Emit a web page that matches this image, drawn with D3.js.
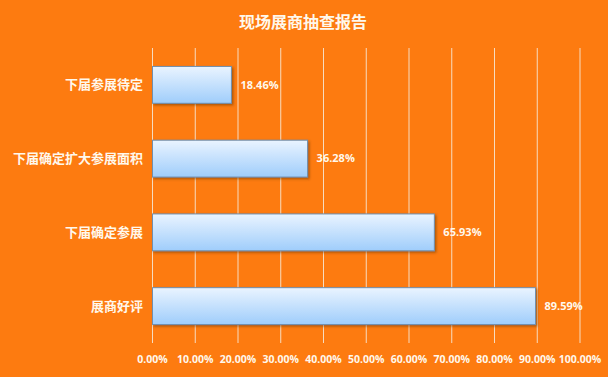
<!DOCTYPE html>
<html><head><meta charset="utf-8">
<script src="https://cdn.jsdelivr.net/npm/d3@7"></script>
<style>html,body{margin:0;padding:0;background:#fd7b10;}svg{display:block;}</style>
</head><body>
<script>
const title = "现场展商抽查报告";
const categories = ["下届参展待定","下届确定扩大参展面积","下届确定参展","展商好评"];
const values = [18.46, 36.28, 65.93, 89.59];
const ticks = [0,10,20,30,40,50,60,70,80,90,100];

const W = 608, H = 377;
const svg = d3.select("body").append("svg").attr("width", W).attr("height", H);
svg.append("rect").attr("width", W).attr("height", H).attr("fill", "#fd7b10");

const defs = svg.append("defs");
const g = defs.append("linearGradient").attr("id","bg").attr("x1",0).attr("y1",0).attr("x2",0).attr("y2",1);
g.append("stop").attr("offset","0%").attr("stop-color","#eaf4ff");
g.append("stop").attr("offset","100%").attr("stop-color","#9fcdfb");
const f = defs.append("filter").attr("id","sh").attr("x","-10%").attr("y","-20%").attr("width","130%").attr("height","160%");
f.append("feDropShadow").attr("dx",1.5).attr("dy",1.5).attr("stdDeviation",1).attr("flood-color","#5a3000").attr("flood-opacity",0.5);

const x = d3.scaleLinear().domain([0,100]).range([152.5, 580]);
const y = d3.scaleBand().domain(categories).range([48, 343]).paddingInner(0.5).paddingOuter(0.25);

// grid
svg.append("g").selectAll("line").data(ticks).join("line")
  .attr("x1", d=>x(d)).attr("x2", d=>x(d)).attr("y1", 48).attr("y2", 343)
  .attr("stroke", "#f7dcc0").attr("stroke-width", 1);

// bars
svg.append("g").selectAll("rect").data(values).join("rect")
  .attr("x", x(0)).attr("y", (d,i)=>y(categories[i]))
  .attr("width", d=>x(d)-x(0)).attr("height", y.bandwidth())
  .attr("fill","url(#bg)").attr("stroke","#6f8fae").attr("stroke-width",1)
  .attr("filter","url(#sh)");

// value labels
svg.append("g").selectAll("text").data(values).join("text")
  .attr("x", d=>x(d)+9).attr("y", (d,i)=>y(categories[i])+y.bandwidth()/2)
  .attr("dy","0.35em").attr("fill","#fff8ec")
  .attr("font-family","Open Sans, sans-serif").attr("font-weight","bold").attr("font-size","11px")
  .text(d=>d.toFixed(2)+"%");

// category labels
svg.append("g").selectAll("text").data(categories).join("text")
  .attr("x", 143).attr("y", d=>y(d)+y.bandwidth()/2)
  .attr("dy","0.35em").attr("text-anchor","end").attr("fill","#fff8ec")
  .attr("font-family","Noto Sans CJK SC, sans-serif").attr("font-weight","bold").attr("font-size","13px")
  .text(d=>d);

// x axis labels
svg.append("g").selectAll("text").data(ticks).join("text")
  .attr("x", d=>x(d)).attr("y", 359).attr("dy","0.35em").attr("text-anchor","middle")
  .attr("fill","#fff8ec")
  .attr("font-family","Open Sans, sans-serif").attr("font-weight","bold").attr("font-size","10.5px")
  .text(d=>d.toFixed(2)+"%");

// title
svg.append("text").attr("x", 303).attr("y", 22).attr("dy","0.35em").attr("text-anchor","middle")
  .attr("fill","#fff8ec").attr("font-family","Noto Sans CJK SC, sans-serif").attr("font-weight","bold")
  .attr("font-size","16px").text(title);
</script>
</body></html>
